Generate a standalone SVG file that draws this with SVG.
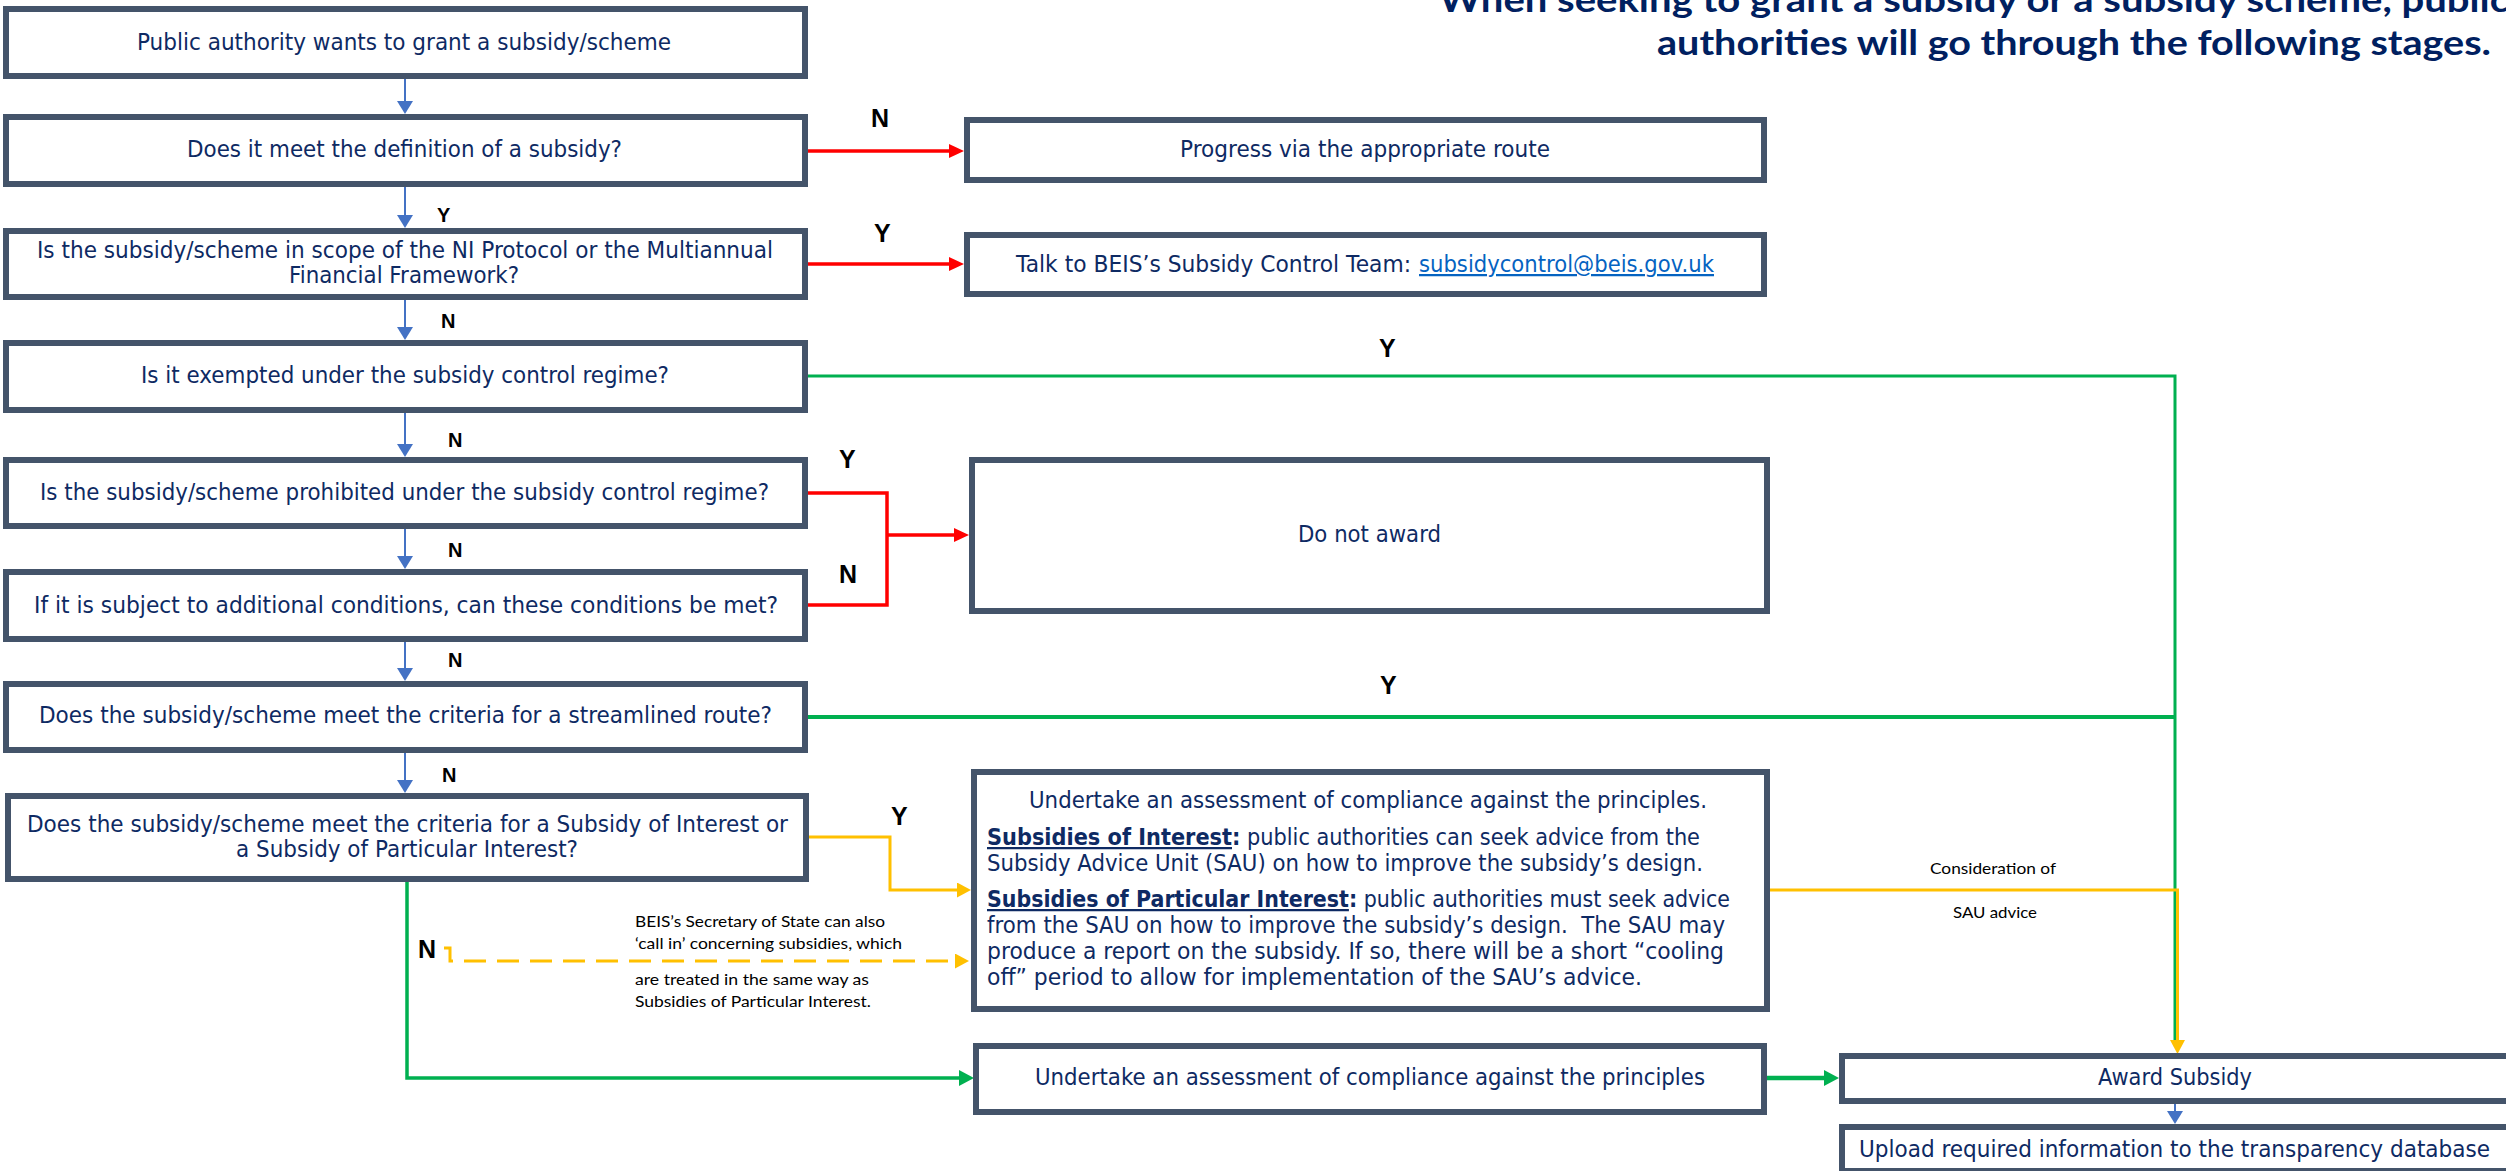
<svg xmlns="http://www.w3.org/2000/svg" width="2506" height="1171" viewBox="0 0 2506 1171">
  <style>
    .box { fill: #ffffff; stroke: #44546A; stroke-width: 6; }
    .bt { font-family: "DejaVu Sans", Verdana, sans-serif; font-size: 22.5px; fill: #0E2A63; }
    .bt22 { font-family: "DejaVu Sans", Verdana, sans-serif; font-size: 23.5px; fill: #0E2A63; }
    .lbl { font-family: "Liberation Sans", Arial, sans-serif; font-weight: bold; font-size: 20px; fill: #000000; }
    .lblb { font-family: "Liberation Sans", Arial, sans-serif; font-weight: bold; font-size: 25px; fill: #000000; }
    .note { font-family: Lato, "Open Sans", sans-serif; font-size: 15px; fill: #000000; }
    .title { font-family: Lato, "Open Sans", sans-serif; font-weight: bold; font-size: 35px; fill: #002060; }
    .link { fill: #0563C1; text-decoration: underline; }
    .c-blue { fill: none; stroke: #4472C4; stroke-width: 2; }
    .c-red { fill: none; stroke: #FF0000; stroke-width: 3.5; }
    .c-green { fill: none; stroke: #00B050; stroke-width: 3.5; }
    .c-yellow { fill: none; stroke: #FFC000; stroke-width: 3; }
  </style>
  <defs>
    <marker id="ah-blue" markerUnits="userSpaceOnUse" markerWidth="14" markerHeight="16" refX="1" refY="8" orient="auto">
      <path d="M0,0 L13,8 L0,16 z" fill="#4472C4"/>
    </marker>
    <marker id="ah-red" markerUnits="userSpaceOnUse" markerWidth="16" markerHeight="14" refX="1" refY="7" orient="auto">
      <path d="M0,0 L15,7 L0,14 z" fill="#FF0000"/>
    </marker>
    <marker id="ah-green" markerUnits="userSpaceOnUse" markerWidth="16" markerHeight="16" refX="1" refY="8" orient="auto">
      <path d="M0,0 L15,8 L0,16 z" fill="#00B050"/>
    </marker>
    <marker id="ah-yellow" markerUnits="userSpaceOnUse" markerWidth="15" markerHeight="15" refX="1" refY="7.5" orient="auto">
      <path d="M0,0 L14,7.5 L0,15 z" fill="#FFC000"/>
    </marker>
  </defs>

  <rect width="2506" height="1171" fill="#ffffff"/>

  <!-- heading -->
  <g id="title">
    <text class="title" x="1439" y="12" textLength="1070" lengthAdjust="spacingAndGlyphs">When seeking to grant a subsidy or a subsidy scheme, public</text>
    <text class="title" x="1657" y="55" textLength="834" lengthAdjust="spacingAndGlyphs">authorities will go through the following stages.</text>
  </g>

  <!-- connectors -->
  <g id="connectors">
    <!-- main column, blue -->
    <path class="c-blue" d="M405,79 V102" marker-end="url(#ah-blue)"/>
    <path class="c-blue" d="M405,187 V216" marker-end="url(#ah-blue)"/>
    <path class="c-blue" d="M405,300 V328" marker-end="url(#ah-blue)"/>
    <path class="c-blue" d="M405,413 V445" marker-end="url(#ah-blue)"/>
    <path class="c-blue" d="M405,529 V557" marker-end="url(#ah-blue)"/>
    <path class="c-blue" d="M405,642 V669" marker-end="url(#ah-blue)"/>
    <path class="c-blue" d="M405,753 V781" marker-end="url(#ah-blue)"/>
    <path class="c-blue" d="M2175,1104 V1112" marker-end="url(#ah-blue)"/>

    <!-- red exits -->
    <path class="c-red" d="M808,151 H950" marker-end="url(#ah-red)"/>
    <path class="c-red" d="M808,264 H950" marker-end="url(#ah-red)"/>
    <path class="c-red" d="M808,493 H887 V605 H808"/>
    <path class="c-red" d="M887,535 H955" marker-end="url(#ah-red)"/>

    <!-- green routes to award -->
    <path class="c-green" d="M808,376 H2175 V1040" style="stroke-width:3"/>
    <path class="c-green" d="M808,717 H2175" style="stroke-width:4"/>
    <path class="c-green" d="M407,882 V1078 H960" marker-end="url(#ah-green)"/>
    <path class="c-green" d="M1767,1078 H1825" style="stroke-width:4.5" marker-end="url(#ah-green)"/>

    <!-- yellow routes -->
    <path class="c-yellow" d="M809,837 H890 V890 H958" marker-end="url(#ah-yellow)"/>
    <path class="c-yellow" d="M1770,890 H2177.5 V1041" marker-end="url(#ah-yellow)"/>
    <path class="c-yellow" d="M444,948 H450 V961 H956" stroke-dasharray="22 11" marker-end="url(#ah-yellow)"/>
  </g>

  <!-- connector labels -->
  <g id="labels">
    <text class="lbl" x="437" y="222">Y</text>
    <text class="lbl" x="441" y="328">N</text>
    <text class="lbl" x="448" y="447">N</text>
    <text class="lbl" x="448" y="557">N</text>
    <text class="lbl" x="448" y="667">N</text>
    <text class="lbl" x="442" y="782">N</text>
    <text class="lblb" x="871" y="127">N</text>
    <text class="lblb" x="874" y="242">Y</text>
    <text class="lblb" x="1379" y="357">Y</text>
    <text class="lblb" x="839" y="468">Y</text>
    <text class="lblb" x="839" y="583">N</text>
    <text class="lblb" x="1380" y="694">Y</text>
    <text class="lblb" x="891" y="825">Y</text>
    <text class="lblb" x="418" y="958">N</text>
    <text class="note" x="635" y="927" textLength="250" lengthAdjust="spacingAndGlyphs">BEIS’s Secretary of State can also</text>
    <text class="note" x="635" y="949" textLength="267" lengthAdjust="spacingAndGlyphs">‘call in’ concerning subsidies, which</text>
    <text class="note" x="635" y="985" textLength="234" lengthAdjust="spacingAndGlyphs">are treated in the same way as</text>
    <text class="note" x="635" y="1007" textLength="236" lengthAdjust="spacingAndGlyphs">Subsidies of Particular Interest.</text>
    <text class="note" x="1930" y="874" textLength="126" lengthAdjust="spacingAndGlyphs">Consideration of</text>
    <text class="note" x="1953" y="918" textLength="84" lengthAdjust="spacingAndGlyphs">SAU advice</text>
  </g>

  <!-- decision column -->
  <g id="n-start">
    <rect class="box" x="6" y="9" width="799" height="67"/>
    <text class="bt22" x="137" y="50" textLength="534" lengthAdjust="spacingAndGlyphs">Public authority wants to grant a subsidy/scheme</text>
  </g>
  <g id="n-definition">
    <rect class="box" x="6" y="117" width="799" height="67"/>
    <text class="bt" x="187" y="157" textLength="435" lengthAdjust="spacingAndGlyphs">Does it meet the definition of a subsidy?</text>
  </g>
  <g id="n-scope">
    <rect class="box" x="6" y="231" width="799" height="66"/>
    <text class="bt" x="37" y="258" textLength="736" lengthAdjust="spacingAndGlyphs">Is the subsidy/scheme in scope of the NI Protocol or the Multiannual</text>
    <text class="bt" x="289" y="283" textLength="230" lengthAdjust="spacingAndGlyphs">Financial Framework?</text>
  </g>
  <g id="n-exempt">
    <rect class="box" x="6" y="343" width="799" height="67"/>
    <text class="bt" x="141" y="383" textLength="528" lengthAdjust="spacingAndGlyphs">Is it exempted under the subsidy control regime?</text>
  </g>
  <g id="n-prohibited">
    <rect class="box" x="6" y="460" width="799" height="66"/>
    <text class="bt" x="40" y="500" textLength="729" lengthAdjust="spacingAndGlyphs">Is the subsidy/scheme prohibited under the subsidy control regime?</text>
  </g>
  <g id="n-conditions">
    <rect class="box" x="6" y="572" width="799" height="67"/>
    <text class="bt" x="34" y="613" textLength="744" lengthAdjust="spacingAndGlyphs">If it is subject to additional conditions, can these conditions be met?</text>
  </g>
  <g id="n-streamlined">
    <rect class="box" x="6" y="684" width="799" height="66"/>
    <text class="bt" x="39" y="723" textLength="733" lengthAdjust="spacingAndGlyphs">Does the subsidy/scheme meet the criteria for a streamlined route?</text>
  </g>
  <g id="n-interest">
    <rect class="box" x="8" y="796" width="798" height="83"/>
    <text class="bt" x="27" y="832" textLength="761" lengthAdjust="spacingAndGlyphs">Does the subsidy/scheme meet the criteria for a Subsidy of Interest or</text>
    <text class="bt" x="236" y="857" textLength="342" lengthAdjust="spacingAndGlyphs">a Subsidy of Particular Interest?</text>
  </g>

  <!-- outcome boxes -->
  <g id="n-progress">
    <rect class="box" x="967" y="120" width="797" height="60"/>
    <text class="bt" x="1180" y="157" textLength="370" lengthAdjust="spacingAndGlyphs">Progress via the appropriate route</text>
  </g>
  <g id="n-talk">
    <rect class="box" x="967" y="235" width="797" height="59"/>
    <text class="bt" x="1016" y="272" textLength="395" lengthAdjust="spacingAndGlyphs">Talk to BEIS’s Subsidy Control Team:</text>
    <text class="bt link" x="1419" y="272" textLength="295" lengthAdjust="spacingAndGlyphs">subsidycontrol@beis.gov.uk</text>
  </g>
  <g id="n-do-not-award">
    <rect class="box" x="972" y="460" width="795" height="151"/>
    <text class="bt" x="1298" y="542" textLength="143" lengthAdjust="spacingAndGlyphs">Do not award</text>
  </g>
  <g id="n-sau">
    <rect class="box" x="974" y="772" width="793" height="237"/>
    <text class="bt" x="1029" y="808" textLength="678" lengthAdjust="spacingAndGlyphs">Undertake an assessment of compliance against the principles.</text>
    <text class="bt" x="987" y="845" textLength="713" lengthAdjust="spacingAndGlyphs"><tspan font-weight="bold" text-decoration="underline">Subsidies of Interest</tspan><tspan font-weight="bold">:</tspan> public authorities can seek advice from the</text>
    <text class="bt" x="987" y="871" textLength="716" lengthAdjust="spacingAndGlyphs">Subsidy Advice Unit (SAU) on how to improve the subsidy’s design.</text>
    <text class="bt" x="987" y="907" textLength="743" lengthAdjust="spacingAndGlyphs"><tspan font-weight="bold" text-decoration="underline">Subsidies of Particular Interest</tspan><tspan font-weight="bold">:</tspan> public authorities must seek advice</text>
    <text class="bt" x="987" y="933" textLength="738" lengthAdjust="spacingAndGlyphs" xml:space="preserve">from the SAU on how to improve the subsidy’s design.  The SAU may</text>
    <text class="bt" x="987" y="959" textLength="737" lengthAdjust="spacingAndGlyphs">produce a report on the subsidy. If so, there will be a short “cooling</text>
    <text class="bt" x="987" y="985" textLength="655" lengthAdjust="spacingAndGlyphs">off” period to allow for implementation of the SAU’s advice.</text>
  </g>
  <g id="n-assess">
    <rect class="box" x="976" y="1046" width="788" height="66"/>
    <text class="bt" x="1035" y="1085" textLength="670" lengthAdjust="spacingAndGlyphs">Undertake an assessment of compliance against the principles</text>
  </g>
  <g id="n-award">
    <rect class="box" x="1842" y="1056" width="700" height="45"/>
    <text class="bt22" x="2098" y="1085" textLength="154" lengthAdjust="spacingAndGlyphs">Award Subsidy</text>
  </g>
  <g id="n-upload">
    <rect class="box" x="1842" y="1127" width="700" height="44"/>
    <text class="bt22" x="1859" y="1157" textLength="631" lengthAdjust="spacingAndGlyphs">Upload required information to the transparency database</text>
  </g>
</svg>
